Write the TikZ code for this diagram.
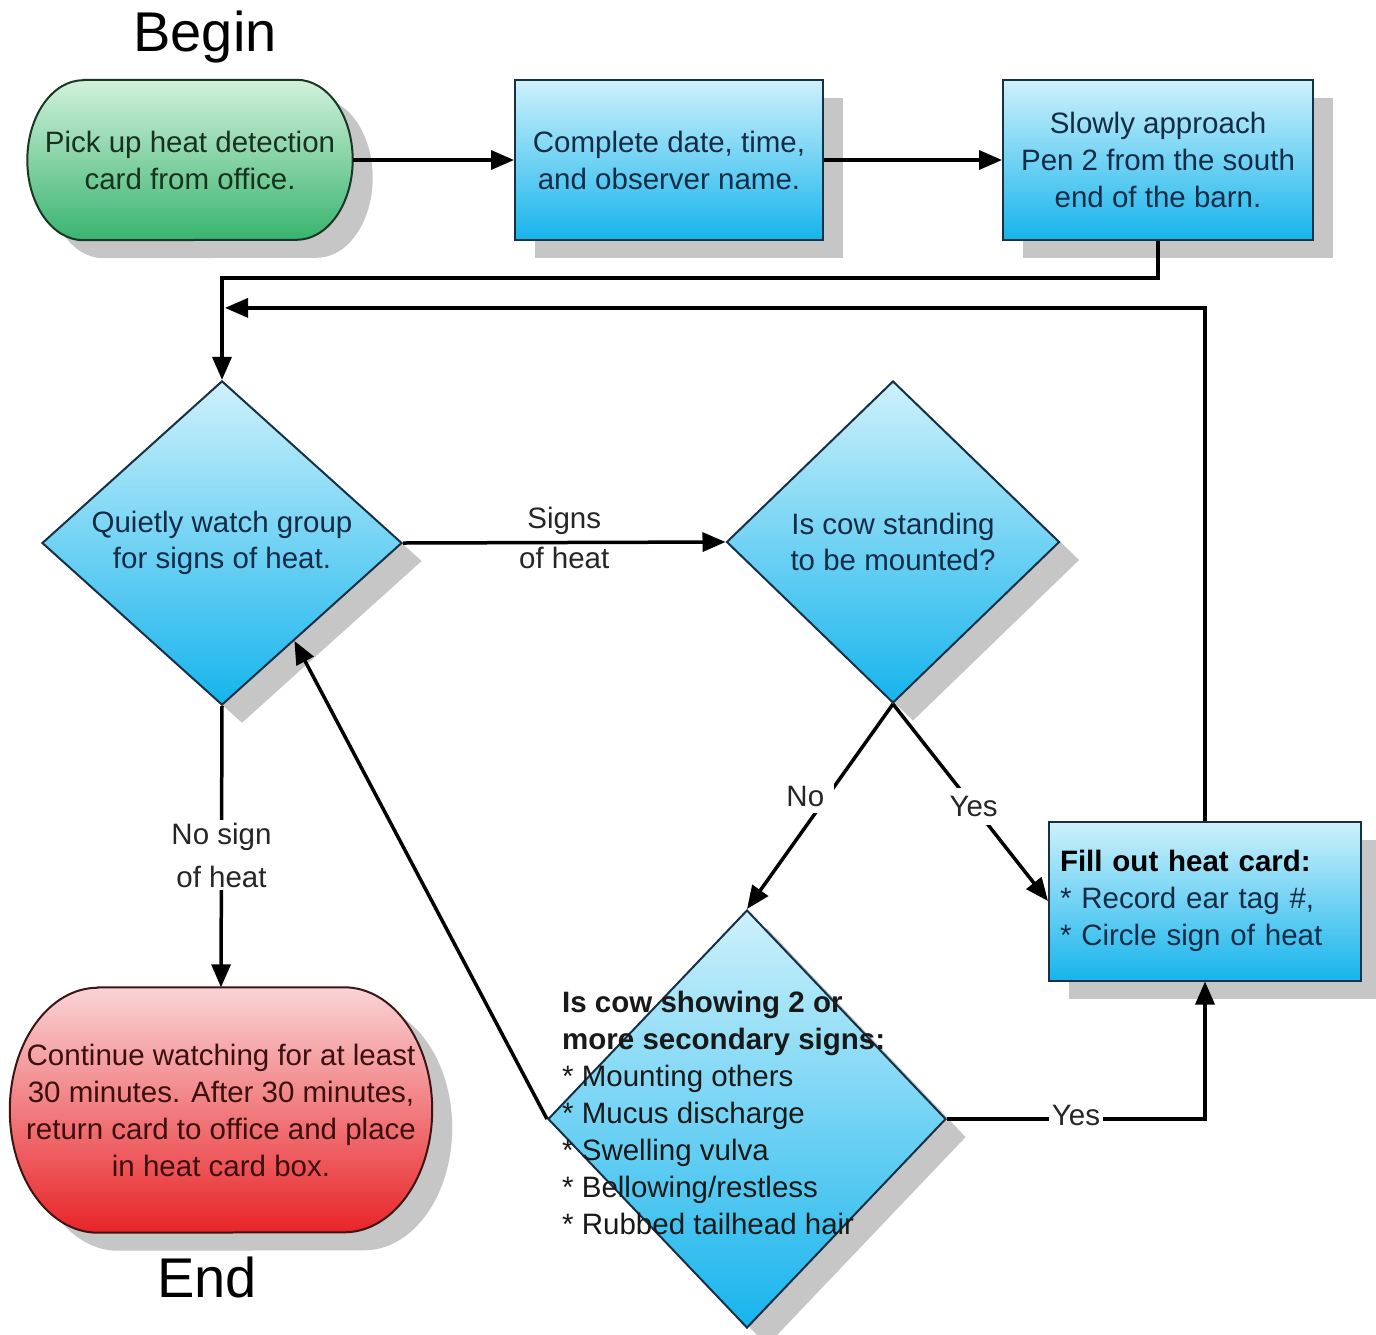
\documentclass[tikz,border=0pt]{standalone}
\usepackage{fontspec}
\setmainfont{Liberation Sans}
\usetikzlibrary{shapes.geometric,shadows,arrows.meta,calc,backgrounds}
\definecolor{bluetop}{RGB}{206,241,251}
\definecolor{bluebot}{RGB}{22,180,236}
\definecolor{blueline}{RGB}{22,48,70}
\definecolor{bluetext}{RGB}{20,44,70}
\definecolor{greentop}{RGB}{210,241,220}
\definecolor{greenbot}{RGB}{56,180,110}
\definecolor{greenline}{RGB}{25,55,35}
\definecolor{greentext}{RGB}{25,50,32}
\definecolor{redtop}{RGB}{250,212,214}
\definecolor{redbot}{RGB}{232,36,40}
\definecolor{redline}{RGB}{60,20,20}
\definecolor{redtext}{RGB}{60,16,16}
\definecolor{shadowgray}{RGB}{198,198,198}
\newcommand\fsz{\fontsize{29.5}{37}\selectfont}
\newcommand\fszd{\fontsize{29.5}{36}\selectfont}
\newcommand\termoutline[3]{([xshift=#2]#1.north west) -- ([xshift=-#2]#1.north east) arc[start angle=90,end angle=-90,x radius=#2,y radius=#3] -- ([xshift=#2]#1.south west) arc[start angle=270,end angle=90,x radius=#2,y radius=#3] -- cycle}
\begin{document}
\begin{tikzpicture}[x=1pt,y=-1pt,
 shad/.style={drop shadow={shadow xshift=20pt,shadow yshift=-18pt,fill=shadowgray,opacity=1}},
 bluefill/.style={top color=bluetop,bottom color=bluebot,draw=blueline,line width=2pt},
 procbox/.style={rectangle,bluefill,shad,minimum width=310pt,minimum height=160pt,align=center,font=\fsz,text=bluetext,inner sep=0pt},
 decis/.style={diamond,bluefill,shad,inner sep=0pt,align=center,font=\fszd,text=bluetext},
 termnode/.style={rectangle,inner sep=0pt,align=center,font=\fsz},
 conn/.style={line width=3.5pt,-{Triangle[length=23pt,width=19pt]}},
 lab/.style={font=\fsz,text=black!85,align=center,fill=white,inner sep=3pt},
 bigtxt/.style={font=\fontsize{56}{60}\selectfont,inner sep=0pt},
]
\useasboundingbox (0,0) rectangle (1376,1334);
\begin{scope}[on background layer]
\fill[white] (0,0) rectangle (1376,1334);
\end{scope}

% titles
\node[bigtxt] (begin) at (205,37) {Begin};
\node[bigtxt] (endlabel) at (207,1277) {End};

% terminals
\node[termnode,text=greentext,minimum width=325pt,minimum height=160pt] (start) at (190,160) {Pick up heat detection\\card from office.};
\node[termnode,text=redtext,minimum width=422pt,minimum height=245pt] (stop) at (221,1110) {Continue watching for at least\\30 minutes. After 30 minutes,\\return card to office and place\\in heat card box.};
\begin{scope}[on background layer]
\path[shad,top color=greentop,bottom color=greenbot,draw=greenline,line width=2pt] \termoutline{start}{56pt}{80pt};
\path[shad,top color=redtop,bottom color=redbot,draw=redline,line width=2pt] \termoutline{stop}{88pt}{122.5pt};
\end{scope}

% process boxes
\node[procbox,minimum width=308pt] (b2) at (669,160) {Complete date, time,\\and observer name.};
\node[procbox] (b3) at (1158,160) {Slowly approach\\Pen 2 from the south\\end of the barn.};
\node[procbox,align=left,text width=290pt,inner xsep=11pt,minimum width=312pt,minimum height=159pt] (fillcard) at (1205,901) {\textcolor{black}{\textbf{Fill out heat card:}}\\{*} Record ear tag \#,\\{*} Circle sign of heat};

% decisions
\node[decis,minimum width=360pt,minimum height=322pt] (d1) at (222,543) {Quietly watch group\\for signs of heat.};
\node[decis,minimum width=333pt,minimum height=322pt] (d2) at (893,542) {Is cow standing\\to be mounted?};
\node[decis,minimum width=398pt,minimum height=418pt] (d3) at (747,1119) {};
\node[font=\fsz,align=left,anchor=west,inner sep=0pt,text=black!90] (d3txt) at (562,1113) {\textbf{Is cow showing 2 or}\\\textbf{more secondary signs:}\\{*} Mounting others\\{*} Mucus discharge\\{*} Swelling vulva\\{*} Bellowing/restless\\{*} Rubbed tailhead hair};

% connectors
\draw[conn] (start.east) -- (b2.west);
\draw[conn] (b2.east) -- (b3.west);
\draw[conn] (b3.south) -- ++(0,37) -| (d1.north);
\draw[conn] (fillcard.north) |- ($(d1.north)+(3,-72)$);
\draw[conn] (d1.east) -- node[lab,fill=none,yshift=5pt,font=\fontsize{29.5}{40}\selectfont] {Signs\\of heat} (d2.west);
\draw[conn] (d1.south) -- node[lab,pos=0.53,font=\fontsize{29.5}{43}\selectfont] {No sign\\of heat} (stop.north);
\draw[conn] (d2.south) -- node[lab,pos=0.45,xshift=-22pt,inner xsep=10pt,inner ysep=6pt] {No} (d3.north);
\draw[conn] (d2.south) -- node[lab,pos=0.52,inner ysep=8pt] {Yes} (fillcard.west);
\draw[conn] (d3.west) -- ($(d1.east)!0.6!(d1.south)$);
\draw[conn] (d3.east) -| node[lab,pos=0.25,yshift=4pt] {Yes} (fillcard.south);
\end{tikzpicture}
\end{document}
